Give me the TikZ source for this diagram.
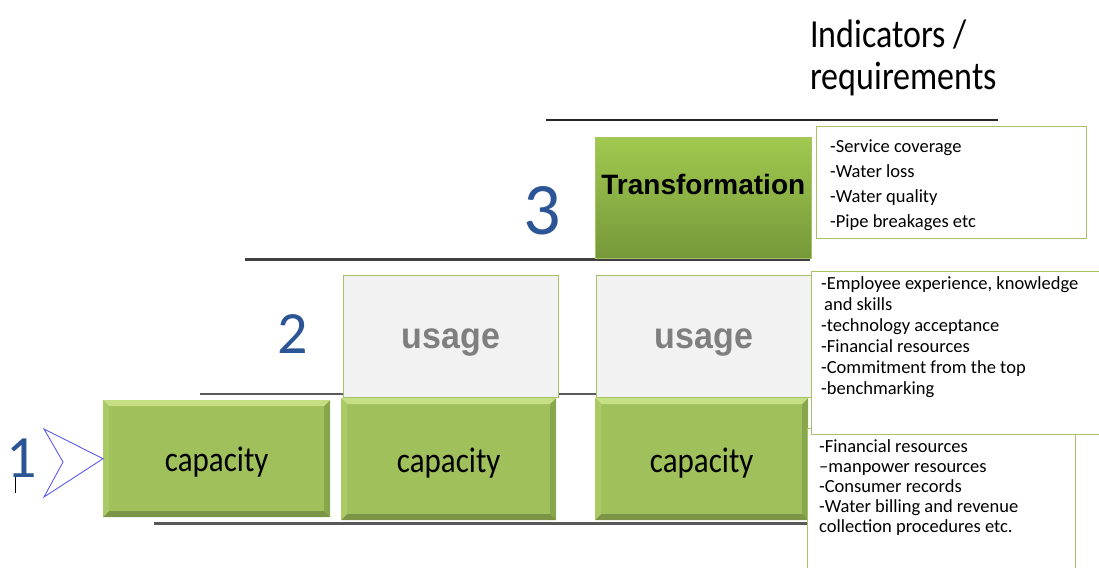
\documentclass[tikz,border=0pt]{standalone}
\usepackage{fontspec}
\usepackage{graphicx}
\setmainfont{Carlito}
\newfontfamily\headfont{Liberation Sans}

\definecolor{capgreen}{HTML}{9FC05A}
\definecolor{bevlight}{HTML}{C6DF84}
\definecolor{bevleft}{HTML}{AACA66}
\definecolor{bevright}{HTML}{88A64C}
\definecolor{bevdark}{HTML}{7C9446}
\definecolor{trtop}{HTML}{A1C94F}
\definecolor{trbot}{HTML}{76983A}
\definecolor{boxline}{HTML}{A5C266}
\definecolor{usagefill}{HTML}{F2F2F2}
\definecolor{usagetext}{HTML}{7F7F7F}
\definecolor{numblue}{HTML}{2B5594}
\definecolor{chevron}{HTML}{5A5AF0}

% text set on its baseline, lowered by #1 below the box centre, stretched upright
\newcommand\lowtext[3]{\raisebox{-#1}[0pt][0pt]{\scalebox{1}[#2]{#3}}}

\begin{document}
\begin{tikzpicture}[x=1pt,y=-1pt,
  rule/.style={draw=#1, line cap=butt},
  capbox/.style={anchor=north west, inner sep=0pt, fill=capgreen,
    minimum width=#1, minimum height=120pt,
    font=\fontsize{31}{31}\selectfont, text=black,
    path picture={
      \fill[bevlight] (path picture bounding box.north west) -- (path picture bounding box.north east)
        -- ([shift={(-6pt,-6pt)}]path picture bounding box.north east)
        -- ([shift={(6pt,-6pt)}]path picture bounding box.north west) -- cycle;
      \fill[bevleft] (path picture bounding box.north west) -- ([shift={(6pt,-6pt)}]path picture bounding box.north west)
        -- ([shift={(6pt,6pt)}]path picture bounding box.south west)
        -- (path picture bounding box.south west) -- cycle;
      \fill[bevright] (path picture bounding box.north east) -- ([shift={(-6pt,-6pt)}]path picture bounding box.north east)
        -- ([shift={(-6pt,6pt)}]path picture bounding box.south east)
        -- (path picture bounding box.south east) -- cycle;
      \fill[bevdark] (path picture bounding box.south west) -- (path picture bounding box.south east)
        -- ([shift={(-6pt,6pt)}]path picture bounding box.south east)
        -- ([shift={(6pt,6pt)}]path picture bounding box.south west) -- cycle;
    }},
  usagebox/.style={anchor=north west, inner sep=0pt, fill=usagefill, draw=boxline, line width=0.8pt,
    minimum width=215pt, minimum height=122pt,
    font=\headfont\bfseries\fontsize{34}{34}\selectfont, text=usagetext},
  listbox/.style={anchor=north west, inner sep=0pt, fill=white, draw=boxline, line width=1.2pt},
  listtext/.style={anchor=north west, inner sep=0pt, align=left, text=black},
  numtext/.style={text=numblue, inner sep=0pt, font=\fontsize{60}{60}\selectfont}
]
\useasboundingbox (0,0) rectangle (1099,567);
\clip (0,0) rectangle (1099,567);

% heading of the indicator column
\node[anchor=north west, inner sep=0pt, font=\fontsize{34}{36}\selectfont] (head)
  at (810,18) {\scalebox{1}[1.17]{\begin{tabular}{@{}l@{}}Indicators /\\requirements\end{tabular}}};

% level rules
\draw[rule={black!85}, line width=2pt] (546,120) -- (998,120);
\draw[rule={black!75}, line width=3pt] (245,259.5) -- (810,259.5);
\draw[rule={black!65}, line width=2.5pt] (200,394) -- (600,394);
\draw[rule={black!65}, line width=3pt] (154,523) -- (808,523);

% level 3
\node[anchor=north west, inner sep=0pt, minimum width=216pt, minimum height=121pt,
  top color=trtop, bottom color=trbot, draw=boxline, line width=0.6pt,
  label={[font=\headfont\bfseries\fontsize{28}{28}\selectfont, text=black, yshift=13pt]center:Transformation}]
  (trans) at (595,137) {};
\node[numtext, font=\fontsize{74}{74}\selectfont] (n3) at (542,211) {3};

% level 2
\node[usagebox] (use1) at (343,275) {\lowtext{12.5pt}{1.08}{usage}};
\node[usagebox] (use2) at (596,275) {\lowtext{12.5pt}{1.08}{usage}};
\node[numtext] (n2) at (293,334) {2};

% level 1
\node[capbox=227pt, minimum height=117pt] (cap1) at (103,400) {\lowtext{13pt}{1.15}{capacity}};
\node[capbox=215pt, minimum height=122pt] (cap2) at (341,398) {\lowtext{13pt}{1.15}{capacity}};
\node[capbox=213pt, minimum height=122pt] (cap3) at (595,398) {\lowtext{13pt}{1.15}{capacity}};
\node[numtext] (n1) at (22,458) {1};
\draw[black, line width=1.3pt] (15.5,477) -- (15.5,493);

% chevron pointing at the first capacity box
\draw[chevron, line width=0.9pt, line join=miter] (44,429) -- (cap1.west) -- (44,497) -- (63,462) -- cycle;

% indicator lists
\node[listbox, minimum width=270pt, minimum height=112pt] (req3) at (816,126) {};
\node[listtext, font=\fontsize{18.5}{25}\selectfont] (req3txt) at (830,140)
  {-Service coverage\\-Water loss\\-Water quality\\-Pipe breakages etc};

\node[listbox, minimum width=268pt, minimum height=140pt] (req1) at (807,428) {};
\node[listbox, minimum width=300pt, minimum height=163pt] (req2) at (811,271) {};

\node[listtext, font=\fontsize{18.5}{21}\selectfont] (req2txt) at (821,276)
  {-Employee experience, knowledge\\\hspace*{3pt}and skills\\-technology acceptance\\-Financial resources\\-Commitment from the top\\-benchmarking};

\node[listtext, font=\fontsize{18.5}{20}\selectfont] (req1txt) at (819,439)
  {-Financial resources\\--manpower resources\\-Consumer records\\-Water billing and revenue\\collection procedures etc.};
\end{tikzpicture}
\end{document}
